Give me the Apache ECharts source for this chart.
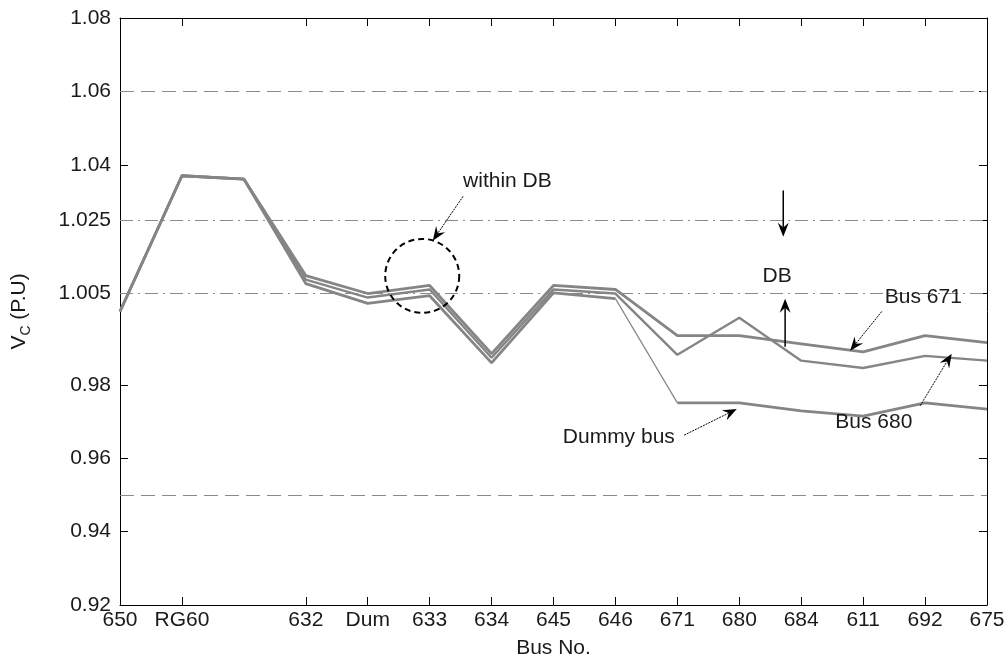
<!DOCTYPE html>
<html lang="en">
<head>
  <meta charset="UTF-8">
  <title>Bus voltage profile</title>
  <script src="https://cdn.jsdelivr.net/npm/echarts@6.0.0/dist/echarts.min.js"></script>
  <style>html,body{margin:0;padding:0;background:#fff;}</style>
</head>
<body>
<div id="main" style="width:1008px;height:670px;"></div>
<script>
  // categories (the third bus has no label in the original)
  var busNames = ['650', 'RG60', '', '632', 'Dum', '633', '634', '645', '646', '671', '680', '684', '611', '692', '675'];
  var yTicks = [0.92, 0.94, 0.96, 0.98, 1.005, 1.025, 1.04, 1.06, 1.08];

  // voltages (p.u.)
  var bus671   = [1.000, 1.0370, 1.0361, 1.0098, 1.0049, 1.0071, 0.9885, 1.0071, 1.0060, 0.9934, 0.9934, 0.9912, 0.9890, 0.9934, 0.9915];
  var bus680   = [1.000, 1.0370, 1.0361, 1.0087, 1.0038, 1.0060, 0.9874, 1.0060, 1.0049, 0.9882, 0.9983, 0.9866, 0.9846, 0.9879, 0.9866];
  var dummyBus = [1.000, 1.0370, 1.0361, 1.0076, 1.0022, 1.0043, 0.9860, 1.0051, 1.0035, 0.9751, 0.9751, 0.9729, 0.9715, 0.9751, 0.9734];

  var limitLines = [1.06, 0.95];   // long dashes
  var dbLines = [1.025, 1.005];    // dash-dot (dead band)

  var FONT = 'Liberation Sans';
  var FS = 21;
  var TXT = '#1a1a1a';
  var GRAY = '#858585';

  var myChart = echarts.init(document.getElementById('main'));

  // keep only points from..to, used to draw the thin part of the dummy bus line
  function part(arr, from, to) {
    return arr.map(function (v, i) { return (i >= from && i <= to) ? v : null; });
  }

  function lineSeries(data, width, extra) {
    var s = {
      type: 'line',
      data: data,
      symbol: 'none',
      silent: true,
      connectNulls: false,
      lineStyle: { color: GRAY, width: width },
      itemStyle: { color: GRAY },
      z: 3
    };
    for (var k in extra) s[k] = extra[k];
    return s;
  }

  var refLines = limitLines.map(function (v) {
    return { yAxis: v, lineStyle: { type: [14, 7], color: '#8a8a8a', width: 1 } };
  }).concat(dbLines.map(function (v) {
    return { yAxis: v, lineStyle: { type: [13, 5, 2, 5], color: '#8a8a8a', width: 1 } };
  }));

  var xBase = {
    type: 'category',
    data: busNames,
    boundaryGap: false,
    axisLine: { lineStyle: { color: '#000', width: 1 } },
    axisTick: {
      inside: true, length: 8,
      interval: function (i) { return busNames[i] !== ''; },
      lineStyle: { color: '#000' }
    },
    splitLine: { show: false }
  };
  var yBase = {
    type: 'value',
    min: 0.92,
    max: 1.08,
    axisLine: { show: true, lineStyle: { color: '#000', width: 1 } },
    axisTick: { show: true, inside: true, length: 8, customValues: yTicks, lineStyle: { color: '#000' } },
    splitLine: { show: false }
  };

  myChart.setOption({
    animation: false,
    backgroundColor: '#fff',
    grid: { left: 120, right: 21, top: 18, bottom: 65, containLabel: false, outerBoundsMode: 'none' },
    xAxis: [
      Object.assign({}, xBase, {
        position: 'bottom',
        axisLabel: { interval: 0, color: TXT, fontFamily: FONT, fontSize: FS, margin: 5 },
        name: 'Bus No.',
        nameLocation: 'middle',
        nameGap: 33,
        nameTextStyle: { color: TXT, fontFamily: FONT, fontSize: FS }
      }),
      Object.assign({}, xBase, { position: 'top', axisLabel: { show: false } })
    ],
    yAxis: [
      Object.assign({}, yBase, {
        position: 'left',
        axisLabel: { customValues: yTicks, color: TXT, fontFamily: FONT, fontSize: FS, margin: 9 },
        name: '{v|V}{s|C}{v| (P.U)}',
        nameLocation: 'middle',
        nameRotate: 90,
        nameGap: 87,
        nameTextStyle: {
          rich: {
            v: { color: TXT, fontFamily: FONT, fontSize: FS, lineHeight: 24, verticalAlign: 'top' },
            s: { color: TXT, fontFamily: FONT, fontSize: 14, lineHeight: 14, verticalAlign: 'top', padding: [10, 0, 0, 0] }
          }
        }
      }),
      Object.assign({}, yBase, { position: 'right', axisLabel: { show: false } })
    ],
    series: [
      lineSeries(bus671, 2.8, {
        name: 'Bus 671',
        markLine: { silent: true, symbol: 'none', precision: 4, label: { show: false }, data: refLines, z: 1 }
      }),
      lineSeries(bus680, 2.4, { name: 'Bus 680' }),
      lineSeries(part(dummyBus, 0, 8), 2.8, { name: 'Dummy bus' }),
      lineSeries(part(dummyBus, 8, 9), 1.2, { name: 'Dummy bus' }),
      lineSeries(part(dummyBus, 9, 14), 2.8, { name: 'Dummy bus' })
    ]
  });

  // ---- annotations, placed in (category index, p.u.) units ----
  var last = busNames.length - 1;
  function toPx(idx, v) {
    var xa = myChart.convertToPixel({ xAxisIndex: 0 }, 0);
    var xb = myChart.convertToPixel({ xAxisIndex: 0 }, last);
    return [xa + (xb - xa) * idx / last, myChart.convertToPixel({ yAxisIndex: 0 }, v)];
  }

  function arrow(a, b, width, dash) {
    var p1 = toPx(a[0], a[1]), p2 = toPx(b[0], b[1]);
    var dx = p2[0] - p1[0], dy = p2[1] - p1[1];
    var len = Math.sqrt(dx * dx + dy * dy);
    var ux = dx / len, uy = dy / len, nx = -uy, ny = ux;
    var hl = 14, hw = 5.5;
    var bx = p2[0] - ux * hl, by = p2[1] - uy * hl;
    var notch = [p2[0] - ux * hl * 0.65, p2[1] - uy * hl * 0.65];
    return [
      { type: 'line', silent: true, z: 10,
        shape: { x1: p1[0], y1: p1[1], x2: notch[0], y2: notch[1] },
        style: { stroke: '#000', lineWidth: width, lineDash: dash || null } },
      { type: 'polygon', silent: true, z: 10,
        shape: { points: [p2, [bx + nx * hw, by + ny * hw], notch, [bx - nx * hw, by - ny * hw]] },
        style: { fill: '#000' } }
    ];
  }

  function label(text, at, align) {
    var p = toPx(at[0], at[1]);
    return { type: 'text', x: p[0], y: p[1], silent: true, z: 10,
      style: { text: text, fill: TXT, fontFamily: FONT, fontSize: FS, align: align || 'left', verticalAlign: 'middle' } };
  }

  var ring = toPx(4.88, 1.0097);
  var graphics = [
    { type: 'circle', silent: true, z: 10,
      shape: { cx: ring[0], cy: ring[1], r: 37 },
      style: { fill: 'none', stroke: '#000', lineWidth: 2, lineDash: [6, 4] } },
    label('within DB', [5.54, 1.0355]),
    label('DB', [10.61, 1.0095], 'center'),
    label('Bus 671', [12.35, 1.0038]),
    label('Bus 680', [11.55, 0.9699]),
    label('Dummy bus', [7.15, 0.9658])
  ]
    .concat(arrow([5.54, 1.0314], [5.05, 1.0193], 1, [2, 1]))
    .concat(arrow([10.71, 1.0330], [10.71, 1.0204], 1.5))
    .concat(arrow([10.74, 0.9904], [10.74, 1.0035], 1.5))
    .concat(arrow([12.30, 1.0000], [11.79, 0.9893], 1, [2, 1]))
    .concat(arrow([12.92, 0.9743], [13.43, 0.9885], 1, [2, 1]))
    .concat(arrow([9.11, 0.9663], [9.96, 0.9734], 1, [2, 1]));

  myChart.setOption({ graphic: graphics });
</script>
</body>
</html>
